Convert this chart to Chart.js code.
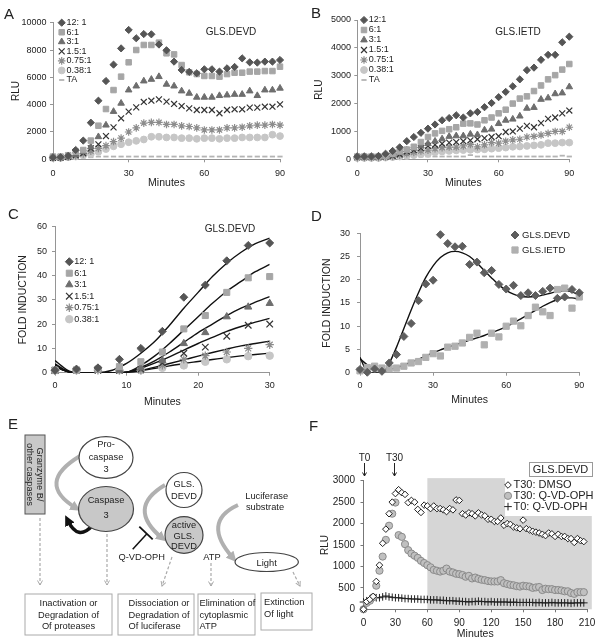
<!DOCTYPE html>
<html>
<head>
<meta charset="utf-8">
<script src="https://cdn.jsdelivr.net/npm/chart.js@4.4.1/dist/chart.umd.min.js"></script>
<style>
  body { margin: 0; background: #fff; }
  #fig { position: relative; width: 604px; height: 644px; font-family: 'Liberation Sans', Arial, sans-serif; color: #222; }
  #fig canvas, #fig svg, #fig .t { position: absolute; }
  .t { white-space: nowrap; line-height: 1; }
  .lab { font-size: 15px; }
  .ttl { font-size: 10px; transform: translate(-50%, -50%); }
</style>
</head>
<body>
<div id="fig">
  <canvas id="cA" width="300" height="200" style="left:0;top:0"></canvas>
  <canvas id="cB" width="304" height="200" style="left:300px;top:0"></canvas>
  <canvas id="cC" width="300" height="210" style="left:0;top:200px"></canvas>
  <canvas id="cD" width="304" height="210" style="left:300px;top:200px"></canvas>
  <canvas id="cF" width="304" height="234" style="left:300px;top:410px"></canvas>

  <svg width="320" height="234" style="left:0;top:410px" viewBox="0 0 320 234"
       font-family="Liberation Sans, Arial, sans-serif" font-size="9.3" fill="#222">
    <defs>
      <marker id="ahG" markerWidth="2.6" markerHeight="2.6" refX="1.3" refY="1.3" orient="auto">
        <path d="M0,0 L2.6,1.3 L0,2.6 z" fill="#b0b0b0"/>
      </marker>
      <marker id="ahK" markerWidth="3" markerHeight="3" refX="1.2" refY="1.5" orient="auto">
        <path d="M0,0 L3,1.5 L0,3 z" fill="#111"/>
      </marker>
      <marker id="ahD" markerWidth="6" markerHeight="6" refX="5" refY="3" orient="auto" markerUnits="userSpaceOnUse">
        <path d="M0.5,0.5 L5,3 L0.5,5.5" fill="none" stroke="#aaa" stroke-width="1"/>
      </marker>
    </defs>

    <rect x="25" y="25" width="20" height="79" fill="#c8c8c8" stroke="#555" stroke-width="1"/>
    <text transform="translate(35,64.5) rotate(90)" text-anchor="middle">
      <tspan x="0" y="-1.5">Granzyme B/</tspan><tspan x="0" y="8.5">other caspases</tspan>
    </text>

    <path d="M80 46 Q35 73 76 98" fill="none" stroke="#b0b0b0" stroke-width="4" marker-end="url(#ahG)"/>
    <path d="M165 75 Q126 98 162 128" fill="none" stroke="#b0b0b0" stroke-width="4" marker-end="url(#ahG)"/>
    <path d="M238 95 Q201 112 233 148" fill="none" stroke="#b0b0b0" stroke-width="4" marker-end="url(#ahG)"/>
    <path d="M92 116 Q78 131 68 111" fill="none" stroke="#111" stroke-width="3.5" marker-end="url(#ahK)"/>

    <ellipse cx="106" cy="47.5" rx="27" ry="20.8" fill="#fff" stroke="#444" stroke-width="1.2"/>
    <text text-anchor="middle"><tspan x="106" y="37">Pro-</tspan><tspan x="106" y="50">caspase</tspan><tspan x="106" y="62">3</tspan></text>

    <ellipse cx="106" cy="99" rx="27.5" ry="22.5" fill="#c8c8c8" stroke="#444" stroke-width="1.2"/>
    <text text-anchor="middle"><tspan x="106" y="93.3">Caspase</tspan><tspan x="106" y="108.3">3</tspan></text>

    <ellipse cx="184" cy="80" rx="18" ry="17.5" fill="#fff" stroke="#444" stroke-width="1.2"/>
    <text text-anchor="middle"><tspan x="184" y="77.3">GLS.</tspan><tspan x="184" y="89.3">DEVD</tspan></text>

    <ellipse cx="184" cy="125" rx="19" ry="18.3" fill="#c8c8c8" stroke="#444" stroke-width="1.2"/>
    <text text-anchor="middle"><tspan x="184" y="118.3">active</tspan><tspan x="184" y="129.3">GLS.</tspan><tspan x="184" y="139.3">DEVD</tspan></text>

    <line x1="132.7" y1="139.3" x2="146.7" y2="124" stroke="#111" stroke-width="1.5"/>
    <line x1="139.3" y1="116.7" x2="152.7" y2="129.3" stroke="#111" stroke-width="1.8"/>
    <text x="141.7" y="150" text-anchor="middle">Q-VD-OPH</text>

    <text text-anchor="middle"><tspan x="266.7" y="88.5">Luciferase</tspan><tspan x="265" y="100">substrate</tspan></text>
    <text x="212" y="150" text-anchor="middle">ATP</text>

    <ellipse cx="266.7" cy="152" rx="31.7" ry="9.5" fill="#fff" stroke="#444" stroke-width="1.2"/>
    <text x="266.7" y="155.5" text-anchor="middle">Light</text>

    <g stroke="#aaa" stroke-width="1.2" stroke-dasharray="3,2" fill="none">
      <line x1="40" y1="108" x2="40" y2="175" marker-end="url(#ahD)"/>
      <line x1="107" y1="124" x2="107" y2="175" marker-end="url(#ahD)"/>
      <line x1="172" y1="147" x2="162" y2="176" marker-end="url(#ahD)"/>
      <line x1="211" y1="153" x2="211" y2="176" marker-end="url(#ahD)"/>
      <line x1="293" y1="162" x2="300" y2="176" marker-end="url(#ahD)"/>
    </g>

    <g fill="#fff" stroke="#aaa" stroke-width="1">
      <rect x="25" y="184" width="87" height="41"/>
      <rect x="118" y="184" width="76" height="41"/>
      <rect x="198" y="184" width="57" height="41"/>
      <rect x="261" y="183" width="51" height="37"/>
    </g>
    <text text-anchor="middle"><tspan x="68.5" y="196">Inactivation or</tspan><tspan x="68.5" y="207.5">Degradation of</tspan><tspan x="68.5" y="219">Of proteases</tspan></text>
    <text><tspan x="128.5" y="196">Dissociation or</tspan><tspan x="128.5" y="207.5">Degradation of</tspan><tspan x="128.5" y="219">Of luciferase</tspan></text>
    <text><tspan x="199.5" y="196">Elimination of</tspan><tspan x="199.5" y="207.5">cytoplasmic</tspan><tspan x="199.5" y="219">ATP</tspan></text>
    <text><tspan x="264" y="195">Extinction</tspan><tspan x="264" y="206.5">Of light</tspan></text>
  </svg>

  <div class="t lab" style="left:4px;top:6px">A</div>
  <div class="t lab" style="left:311px;top:5px">B</div>
  <div class="t lab" style="left:8px;top:206px">C</div>
  <div class="t lab" style="left:311px;top:208px">D</div>
  <div class="t lab" style="left:8px;top:416px">E</div>
  <div class="t lab" style="left:309px;top:418px">F</div>
  <div class="t ttl" style="left:231px;top:32px">GLS.DEVD</div>
  <div class="t ttl" style="left:518px;top:32px">GLS.IETD</div>
  <div class="t ttl" style="left:230px;top:229px">GLS.DEVD</div>
</div>

<script>
const FONT = "'Liberation Sans', Arial, sans-serif";
const NARROW = "'Liberation Sans Narrow', 'Liberation Sans', Arial, sans-serif";

// ---------- data ----------
const minutes90 = [0, 3, 6, 9, 12, 15, 18, 21, 24, 27, 30, 33, 36, 39, 42, 45, 48, 51, 54, 57, 60, 63, 66, 69, 72, 75, 78, 81, 84, 87, 90];
const minutes30 = [0, 3, 6, 9, 12, 15, 18, 21, 24, 27, 30];
const minutesF = [0, 3, 6, 9, 12, 15, 18, 21, 24, 27, 30, 33, 36, 39, 42, 45, 48, 51, 54, 57, 60, 63, 66, 69, 72, 75, 78, 81, 84, 87,
  90, 93, 96, 99, 102, 105, 108, 111, 114, 117, 120, 123, 126, 129, 132, 135, 138, 141, 144, 147, 150, 153, 156, 159, 162, 165, 168, 171, 174, 177,
  180, 183, 186, 189, 192, 195, 198, 201, 204, 207];
const ratioLabels = ['12: 1', '6:1', '3:1', '1.5:1', '0.75:1', '0.38:1', 'TA'];
const ratioLabelsB = ['12:1', '6:1', '3:1', '1.5:1', '0.75:1', '0.38:1', 'TA'];

// A: GLS.DEVD, RLU
const devd12 = [150, 150, 250, 680, 1370, 2680, 4290, 5730, 6930, 8120, 9470, 8860, 9170, 9150, 8400, 7980, 7150, 6540, 6400, 6300, 6590, 6590, 6420, 6660, 6760, 7390, 7100, 7080, 7150, 7150, 7270];
const devd6 = [200, 200, 300, 560, 680, 1370, 2460, 3680, 5070, 6050, 7100, 8000, 8370, 8370, 8540, 7760, 7680, 6900, 6370, 6240, 6100, 6100, 6050, 6240, 6340, 6340, 6420, 6420, 6460, 6460, 6780];
const devd3 = [150, 150, 200, 350, 560, 900, 1650, 2500, 3500, 4100, 5070, 5360, 5730, 5850, 6050, 5490, 5360, 5000, 4830, 4540, 4540, 4540, 4660, 4700, 4750, 4750, 5000, 4660, 5070, 5070, 5200];
const devd15 = [100, 120, 180, 300, 450, 800, 1100, 1700, 2340, 3000, 3490, 3800, 4200, 4290, 4390, 4220, 4050, 3900, 3730, 3610, 3610, 3610, 3370, 3610, 3660, 3660, 3780, 3780, 3850, 3850, 4020];
const devd075 = [100, 100, 150, 250, 400, 600, 800, 1000, 1300, 1550, 2000, 2300, 2650, 2700, 2700, 2550, 2550, 2450, 2400, 2300, 2150, 2150, 2150, 2300, 2300, 2350, 2450, 2500, 2500, 2550, 2500];
const devd038 = [100, 100, 150, 200, 300, 380, 550, 750, 950, 1100, 1250, 1350, 1450, 1650, 1650, 1600, 1600, 1550, 1550, 1500, 1550, 1550, 1500, 1550, 1550, 1600, 1600, 1600, 1600, 1800, 1700];
const devdTA = [80, 80, 90, 100, 120, 150, 200, 200, 200, 200, 200, 200, 200, 200, 200, 200, 200, 200, 200, 200, 200, 200, 200, 200, 200, 200, 200, 200, 200, 200, 200];

// B: GLS.IETD, RLU
const ietd12 = [100, 100, 100, 120, 200, 300, 430, 650, 800, 950, 1100, 1250, 1400, 1480, 1580, 1500, 1650, 1700, 1870, 2020, 2230, 2420, 2620, 2870, 3200, 3290, 3570, 3750, 3750, 4200, 4400];
const ietd6 = [100, 100, 100, 100, 120, 200, 280, 350, 450, 620, 800, 930, 1020, 1080, 1150, 1280, 1290, 1250, 1400, 1500, 1650, 1780, 2000, 2180, 2260, 2450, 2650, 2870, 3020, 3220, 3420];
const ietd3 = [100, 100, 100, 100, 110, 150, 250, 330, 400, 480, 560, 650, 730, 820, 840, 840, 900, 880, 1050, 1080, 1280, 1400, 1440, 1550, 1830, 1860, 2150, 2200, 2350, 2380, 2600];
const ietd15 = [80, 80, 80, 80, 100, 120, 180, 280, 330, 400, 480, 520, 560, 600, 620, 650, 680, 720, 760, 800, 830, 980, 1000, 1100, 1200, 1150, 1300, 1450, 1500, 1650, 1750];
const ietd075 = [60, 60, 60, 60, 80, 100, 150, 200, 250, 300, 330, 380, 420, 440, 440, 480, 530, 450, 520, 600, 580, 650, 700, 720, 800, 820, 870, 930, 1000, 1000, 1150];
const ietd038 = [50, 50, 50, 50, 60, 80, 100, 120, 150, 180, 200, 250, 280, 300, 320, 330, 340, 350, 360, 380, 400, 420, 450, 460, 480, 500, 520, 580, 580, 600, 600];
const ietdTA = [120, 120, 120, 120, 110, 100, 100, 100, 100, 100, 100, 100, 100, 100, 100, 100, 150, 100, 100, 100, 100, 100, 100, 100, 100, 100, 100, 100, 100, 130, 100];

// C: fold induction, first 30 min
const fold12 = [1, 1.5, 2, 5.5, 10, 17, 31, 36, 46, 52.3, 53.3];
const fold6 = [1, 1, 1.5, 2.5, 4.5, 8.5, 18, 23.5, 33, 39, 39.5];
const fold3 = [0.5, 1, 1, 1, 2, 5, 12, 16.5, 23, 27, 28.5];
const fold15 = [1, 1, 1, 1, 1.5, 4, 8, 10.5, 15, 19.5, 20];
const fold075 = [1, 1, 1, 1, 1, 3, 5.5, 7, 8.5, 10, 11.5];
const fold038 = [1, 1, 1.5, 1, 1, 2, 3, 4.5, 5.5, 6.8, 7];
const trendMinutesC = [0, 1, 2, 3, 4, 6, 8, 9, 10, 12, 14, 16, 18, 20, 22, 24, 26, 28, 30];
const trend12 = [5, 2.6, 0.6, 0, 0, 0, 1, 2.3, 3.8, 8, 13, 19.5, 26.5, 33, 39.5, 45, 49.5, 53, 55.3];
const trend6 = [3.6, 1.8, 0.4, 0, 0, 0, 0, 0, 0.2, 3, 7, 12, 17.5, 23, 28.5, 33.5, 37.5, 41.5, 44.5];
const trend3 = [3.2, 1.5, 0.3, 0, 0, 0, 0, 0, 0.2, 2.2, 5, 8.5, 12.5, 16.5, 20, 23.5, 26.5, 29, 31.3];
const trend15 = [3, 1.4, 0.3, 0, 0, 0, 0, 0, 0.2, 1.8, 4, 6.5, 9.3, 12, 14.5, 17, 19, 20.8, 22.3];
const trend075 = [2.8, 1.3, 0.3, 0, 0, 0, 0, 0, 0.1, 1, 2.3, 3.8, 5.3, 6.8, 8.3, 9.7, 11, 12, 13];
const trend038 = [2.5, 1.2, 0.2, 0, 0, 0, 0, 0, 0.1, 0.8, 1.8, 2.8, 3.8, 4.6, 5.4, 6.2, 6.9, 7.5, 8];

// D: fold induction, DEVD vs IETD
const foldDEVD = [0.7, 0.1, 0.8, 0.3, 2.1, 3.9, 7.8, 10.6, 15.5, 19.1, 19.9, 29.7, 27.8, 27.1, 27.2, 23.3, 23.8, 21.5, 22, 19, 18, 18.8, 16.6, 17.2, 16.6, 17.5, 18.2, 16, 16.3, 17.9, 17.2];
const foldIETD = [0.4, 1.1, 1.4, 1.0, 0.9, 1.0, 1.4, 2.1, 2.4, 3.3, 4.1, 3.6, 5.5, 5.7, 6.4, 7.6, 8.5, 6.0, 8.5, 7.7, 10.0, 11.1, 10.1, 12.3, 14.1, 13.1, 12.3, 17.9, 18.2, 13.9, 16.3];
const trendMinutesD = [0, 1, 2, 3, 6, 9, 10, 12, 15, 18, 21, 24, 27, 30, 33, 36, 39, 42, 45, 48, 51, 54, 57, 60, 63, 66, 69, 72, 75, 78, 81, 84, 87, 90];
const trendDEVD = [3.3, 2.1, 0.9, 0, 0, 0, 0.3, 2, 5.5, 9.5, 13.5, 17.2, 20.5, 23, 24.8, 25.8, 26.1, 25.8, 25, 23.6, 22, 20.4, 18.9, 17.7, 16.9, 16.4, 16.3, 16.4, 16.7, 17.1, 17.5, 17.6, 17.4, 16.6];
const trendIETD = [3.0, 1.7, 0.9, 0.6, 0.7, 1.1, 1.6, 2.3, 2.9, 3.6, 4.3, 4.9, 5.5, 6.0, 6.5, 7.0, 7.5, 8.0, 8.6, 9.2, 9.9, 10.7, 11.6, 12.5, 13.4, 14.3, 15.1, 15.7, 16.1, 16.1, 15.8];

// F: GLS.DEVD with Q-VD-OPH
const fDMSO = [0, 180, 230, 300, 650, 1030, 1540, 1870, 2230, 2500, 2700, 2790, 2720, 2680, 2490, 2540, 2500, 2330, 2260, 2430,
  2410, 2350, 2410, 2350, 2350, 2320, 2280, 2350, 2320, 2550, 2540, 2230, 2200, 2250, 2230, 2180, 2250, 2200, 2180, 2100,
  2100, 2050, 2050, 2130, 1960, 2000, 1980, 1920, 1900, 1880, 2080, 1880, 1850, 1820, 1800, 1780, 1750, 1720, 1780, 1760,
  1700, 1750, 1700, 1700, 1650, 1650, 1560, 1650, 1600, 1580];
const fT30 = [0, 150, 200, 280, 550, 900, 1230, 1620, 1950, 2230, 2490, 1730, 1690, 1520, 1380, 1300, 1250, 1200, 1130, 1080,
  1030, 980, 920, 900, 880, 900, 950, 880, 860, 830, 820, 800, 760, 780, 720, 740, 710, 690, 680, 660,
  650, 650, 650, 680, 610, 590, 570, 560, 540, 530, 550, 540, 530, 500, 510, 520, 450, 480, 470, 470,
  450, 450, 440, 420, 420, 380, 360, 400, 400, 400];
const fT0 = [170, 200, 240, 260, 270, 270, 290, 310, 290, 280, 270, 270, 260, 250, 250, 240, 240, 240, 230, 230,
  230, 220, 220, 220, 210, 210, 200, 200, 200, 190, 190, 180, 180, 170, 180, 180, 190, 180, 180, 170,
  180, 170, 170, 170, 170, 170, 160, 170, 160, 160, 160, 160, 160, 160, 150, 160, 150, 150, 150, 160,
  150, 150, 150, 150, 150, 140, 150, 150, 150, 150];
const fLabels = ['T30: DMSO', 'T30: Q-VD-OPH', 'T0: Q-VD-OPH'];

// ---------- styles ----------
const ratioMarks = [
  { style: 'rectRot', r: 3.6, fill: '#555555' },
  { style: 'rect', r: 3.9, fill: '#a6a6a6' },
  { style: 'triangle', r: 3.8, fill: '#6e6e6e' },
  { style: 'crossRot', r: 4.2, line: '#333333', bw: 1.2 },
  { style: 'star', r: 3.8, line: '#8c8c8c', bw: 1.2 },
  { style: 'circle', r: 3.4, fill: '#c6c6c6' },
  { style: 'line', r: 2.6, line: '#b4b4b4', bw: 1.8 }
];

function scatterSet(label, xs, ys, m) {
  return {
    label, data: xs.map((x, i) => ({ x, y: ys[i] })), showLine: false,
    pointStyle: m.style, pointRadius: m.r, pointHoverRadius: m.r,
    pointBackgroundColor: m.fill || 'rgba(0,0,0,0)', pointBorderColor: m.line || m.fill,
    pointBorderWidth: m.bw || 1, clip: false
  };
}
function trendSet(xs, ys) {
  return {
    type: 'line', label: '', data: xs.map((x, i) => ({ x, y: ys[i] })),
    pointRadius: 0, borderColor: '#111', borderWidth: 1.4, cubicInterpolationMode: 'monotone', fill: false
  };
}

// legend drawn inside the plot area
const inLegend = {
  id: 'inLegend',
  afterDraw(chart, args, o) {
    if (!o.items) return;
    const ctx = chart.ctx;
    ctx.save();
    ctx.font = `${o.size}px ${o.font || FONT}`;
    ctx.textBaseline = 'middle';
    o.items.forEach((idx, i) => {
      const ds = chart.data.datasets[idx];
      const y = o.y + i * o.dy;
      ctx.fillStyle = ds.pointBackgroundColor;
      ctx.strokeStyle = ds.pointBorderColor;
      ctx.lineWidth = ds.pointBorderWidth;
      Chart.helpers.drawPoint(ctx, { pointStyle: ds.pointStyle, radius: ds.pointRadius, rotation: 0, borderWidth: ds.pointBorderWidth }, o.x, y);
      ctx.fillStyle = '#222';
      ctx.fillText(ds.label, o.x + o.gap, y);
    });
    ctx.restore();
  }
};

// shaded window, title box and T0/T30 marks of panel F
const fDecor = {
  id: 'fDecor',
  beforeDraw(chart, args, o) {
    if (!o.shade) return;
    const { ctx, scales: { x, y } } = chart;
    ctx.save();
    ctx.fillStyle = '#d6d6d6';
    const l = x.getPixelForValue(o.shade[0]), r = x.getPixelForValue(o.shade[1]);
    const t = y.getPixelForValue(o.shade[2]), b = y.getPixelForValue(0);
    ctx.fillRect(l, t, r - l, b - t);
    ctx.fillStyle = '#fff';
    const wl = x.getPixelForValue(o.white[0]), wt = y.getPixelForValue(o.white[2]), wb = y.getPixelForValue(o.white[1]);
    ctx.fillRect(wl, wt - 2, r - wl + 2, wb - wt + 2);
    ctx.restore();
  },
  afterDraw(chart, args, o) {
    if (!o.marks) return;
    const { ctx, scales: { x } } = chart;
    ctx.save();
    ctx.fillStyle = '#222';
    ctx.strokeStyle = '#222';
    ctx.lineWidth = 1;
    ctx.textAlign = 'center';
    ctx.textBaseline = 'middle';
    ctx.font = `10px ${NARROW}`;
    o.marks.forEach(m => {
      const px = Math.round(x.getPixelForValue(m.at)) + 0.5;
      ctx.fillText(m.text, px, o.markY);
      ctx.beginPath();
      ctx.moveTo(px, o.markY + 5); ctx.lineTo(px, o.markY + 18);
      ctx.moveTo(px - 2, o.markY + 14.5); ctx.lineTo(px, o.markY + 18); ctx.lineTo(px + 2, o.markY + 14.5);
      ctx.stroke();
    });
    const bx = o.box;
    ctx.strokeStyle = '#9a9a9a';
    ctx.strokeRect(bx.x + 0.5, bx.y + 0.5, bx.w, bx.h);
    ctx.font = `11px ${NARROW}`;
    ctx.fillText(bx.text, bx.x + bx.w / 2, bx.y + bx.h / 2 + 0.5);
    ctx.restore();
  }
};

function axes(o) {
  const tickFont = { family: o.tickFamily || FONT, size: o.tickSize || 9 };
  const axisColor = o.axisColor || '#959595';
  const plain = v => String(v);
  return {
    x: {
      type: 'linear', min: o.xmin, max: o.xmax,
      ticks: { stepSize: o.xstep, font: tickFont, color: '#222', padding: o.xpad, maxRotation: 0, autoSkip: false, callback: plain },
      grid: { drawOnChartArea: false, tickLength: 3, color: axisColor },
      border: { color: axisColor },
      title: { display: true, text: 'Minutes', font: { family: FONT, size: 10.5 }, color: '#222', padding: { top: 0, bottom: o.xtb } },
      afterFit: s => { s.height = o.xh; }
    },
    y: {
      type: 'linear', min: o.ymin, max: o.ymax,
      ticks: { stepSize: o.ystep, font: tickFont, color: '#222', padding: o.ypad, callback: plain },
      grid: { drawOnChartArea: false, tickLength: 3, color: axisColor },
      border: { color: axisColor },
      title: { display: true, text: o.ytitle, font: { family: FONT, size: o.ytitleSize || 10 }, color: '#222', padding: { top: o.ytp, bottom: 0 } },
      afterFit: s => { s.width = o.yw; }
    }
  };
}

function makeChart(id, datasets, padding, scaleOpts, pluginOpts) {
  return new Chart(document.getElementById(id), {
    type: 'scatter',
    data: { datasets },
    options: {
      responsive: false, animation: false, devicePixelRatio: 1, events: [],
      layout: { padding },
      scales: axes(scaleOpts),
      plugins: Object.assign({ legend: { display: false }, tooltip: { enabled: false } }, pluginOpts)
    },
    plugins: [inLegend, fDecor]
  });
}

// ---------- A ----------
const seriesA = [devd12, devd6, devd3, devd15, devd075, devd038, devdTA];
makeChart('cA',
  seriesA.map((s, i) => scatterSet(ratioLabels[i], minutes90, s, ratioMarks[i])),
  { left: 0, top: 22.7, right: 20, bottom: 0 },
  { xmin: 0, xmax: 90, xstep: 30, xpad: 5.5, xh: 40.7, xtb: 10.7,
    ymin: 0, ymax: 10000, ystep: 2000, ypad: 3.5, yw: 53, ytitle: 'RLU', ytp: 10 },
  { inLegend: { items: [0, 1, 2, 3, 4, 5, 6], x: 61.7, y: 22.7, dy: 9.55, gap: 4.8, size: 9 } });

// ---------- B ----------
const seriesB = [ietd12, ietd6, ietd3, ietd15, ietd075, ietd038, ietdTA];
makeChart('cB',
  seriesB.map((s, i) => scatterSet(ratioLabelsB[i], minutes90, s, ratioMarks[i])),
  { left: 0, top: 20, right: 34.7, bottom: 0 },
  { xmin: 0, xmax: 90, xstep: 30, xpad: 5.5, xh: 40.7, xtb: 10.4,
    ymin: 0, ymax: 5000, ystep: 1000, ypad: 3.3, yw: 57.3, ytitle: 'RLU', ytp: 13.3 },
  { inLegend: { items: [0, 1, 2, 3, 4, 5, 6], x: 64, y: 20, dy: 10, gap: 4.8, size: 9 } });

// ---------- C ----------
const seriesC = [fold12, fold6, fold3, fold15, fold075, fold038];
const trendsC = [trend12, trend6, trend3, trend15, trend075, trend038];
makeChart('cC',
  seriesC.map((s, i) => scatterSet(ratioLabels[i], minutes30, s, Object.assign({}, ratioMarks[i], { r: ratioMarks[i].r * 1.1 })))
    .concat(trendsC.map(t => trendSet(trendMinutesC, t))),
  { left: 0, top: 26.7, right: 30.3, bottom: 0 },
  { xmin: 0, xmax: 30, xstep: 10, xpad: 4.4, xh: 37.3, xtb: 2,
    ymin: 0, ymax: 60, ystep: 10, ypad: 5, yw: 55, ytitle: 'FOLD INDUCTION', ytitleSize: 10.5, ytp: 17 },
  { inLegend: { items: [0, 1, 2, 3, 4, 5], x: 69.3, y: 61.7, dy: 11.5, gap: 5, size: 9 } });

// ---------- D ----------
makeChart('cD', [
    scatterSet('GLS.DEVD', minutes90, foldDEVD, { style: 'rectRot', r: 4, fill: '#5e5e5e' }),
    scatterSet('GLS.IETD', minutes90, foldIETD, { style: 'rect', r: 4.4, fill: '#b0b0b0' }),
    trendSet(trendMinutesD, trendDEVD),
    trendSet(minutes90, trendIETD)
  ],
  { left: 0, top: 33.3, right: 24.7, bottom: 0 },
  { xmin: 0, xmax: 90, xstep: 30, xpad: 4.4, xh: 37.3, xtb: 3.7,
    ymin: 0, ymax: 30, ystep: 5, ypad: 7, yw: 60, ytitle: 'FOLD INDUCTION', ytitleSize: 10.5, ytp: 20.4 },
  { inLegend: { items: [0, 1], x: 215, y: 35, dy: 15, gap: 7, size: 9.5 } });

// ---------- F ----------
makeChart('cF', [
    scatterSet(fLabels[0], minutesF, fDMSO, { style: 'rectRot', r: 3.3, fill: '#ffffff', line: '#222222', bw: 1 }),
    scatterSet(fLabels[1], minutesF, fT30, { style: 'circle', r: 3.6, fill: '#c0c0c0', line: '#8a8a8a', bw: 1 }),
    scatterSet(fLabels[2], minutesF, fT0, { style: 'cross', r: 3.8, line: '#222222', bw: 1 })
  ],
  { left: 0, top: 70.7, right: 17, bottom: 0 },
  { xmin: 0, xmax: 210, xstep: 30, xpad: 5.2, xh: 34.7, xtb: 3.7,
    ymin: 0, ymax: 3000, ystep: 500, ypad: 5.5, yw: 63.5, ytitle: 'RLU', ytp: 19,
    tickFamily: NARROW, tickSize: 10, axisColor: '#777' },
  { inLegend: { items: [0, 1, 2], x: 208, y: 75, dy: 10.8, gap: 5.5, size: 11, font: NARROW },
    fDecor: { shade: [60, 214.5, 3060], white: [133, 2177, 3100], marks: [{ text: 'T0', at: 0.8 }, { text: 'T30', at: 29 }], markY: 48,
      box: { x: 229, y: 52, w: 63, h: 14, text: 'GLS.DEVD' } } });
</script>
</body>
</html>
